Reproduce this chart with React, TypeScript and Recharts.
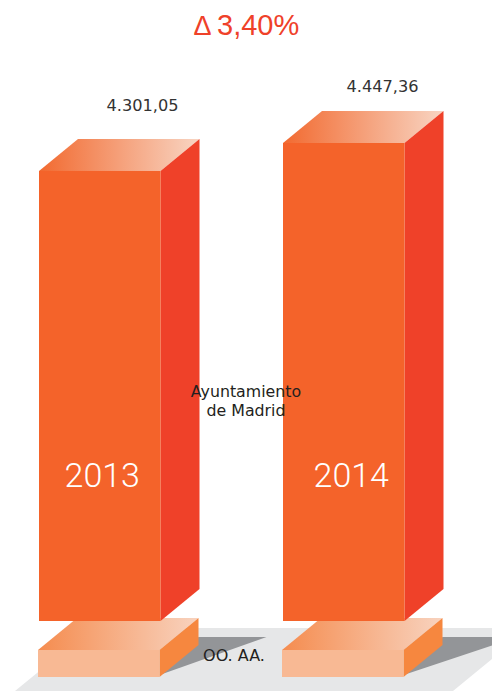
import React from "react";
import { BarChart, Bar, XAxis, YAxis, LabelList } from "recharts";

const years = ["2013", "2014"];
const ayuntamientoValues = [4301.05, 4447.36];
const ayuntamientoLabels = ["4.301,05", "4.447,36"];
const organismosValues = [100, 100];
const seriesNames = ["Ayuntamiento", "de Madrid", "OO. AA."];
const changeLabel = "3,40%";

const upperData = years.map((year, i) => ({ year, value: ayuntamientoValues[i], label: ayuntamientoLabels[i] }));
const lowerData = years.map((year, i) => ({ year, value: organismosValues[i] }));

const DX = 39;
const DY = 32;
const SANS = "'Liberation Sans', Arial, sans-serif";
const VERDANA = "'DejaVu Sans', Verdana, sans-serif";
const labelShift = [{ dx: 103.5, dy: -60 }, { dx: 99.5, dy: -51 }];
const yearShift = [2.5, 7.5];

function Box({ x, y, width, height, index, front, side, from, to, prefix, shadow }: any) {
  const id = `${prefix}-${index}`;
  const r = x + width;
  const b = y + height;
  return (
    <g>
      <defs>
        <linearGradient id={id} x1="0" y1="0" x2="1" y2="0">
          <stop offset="0%" stopColor={from} />
          <stop offset="100%" stopColor={to} />
        </linearGradient>
      </defs>
      {shadow ? <polygon points={shadow(r, b, index)} fill="#939598" /> : null}
      <polygon points={`${x},${y} ${x + DX},${y - DY} ${r + DX},${y - DY} ${r},${y}`} fill={`url(#${id})`} />
      <polygon points={`${r},${y} ${r + DX},${y - DY} ${r + DX},${b - DY} ${r},${b}`} fill={side} />
      <rect x={x} y={y} width={width} height={height} fill={front} />
    </g>
  );
}

const lowerShadow = (r: number, b: number, index: number) =>
  index === 0
    ? `${r},${b - 2} ${r + DX},${b - 40} ${r + 107},${b - 40}`
    : `${r},${b - 2} ${r + DX},${b - 40} ${r + 90},${b - 40} ${r + 90},${b - 32}`;

export default function App() {
  return (
    <div style={{ position: "absolute", left: 0, top: 0, width: 492, height: 691, overflow: "hidden", background: "#fff" }}>
      <svg width={492} height={691} style={{ position: "absolute", left: 0, top: 0 }}>
        <polygon points="92,628 492,628 492,659 453,691 15,691" fill="#e6e7e8" />
      </svg>

      <div style={{ position: "absolute", left: -22.75, top: 0 }}>
        <BarChart width={540} height={677} data={lowerData} margin={{ top: 650, right: 52, bottom: 0, left: 0 }} style={{ overflow: "visible" }}>
          <XAxis dataKey="year" hide />
          <YAxis hide domain={[0, 100]} />
          <Bar
            dataKey="value"
            barSize={121.5}
            isAnimationActive={false}
            shape={(p: any) => (
              <Box {...p} prefix="low" front="#f8b994" side="#f6873f" from="#f58c4f" to="#f8d3bf" shadow={lowerShadow} />
            )}
          />
        </BarChart>
      </div>

      <div style={{ position: "absolute", left: -21.75, top: 0 }}>
        <BarChart width={540} height={621} data={upperData} margin={{ top: 0, right: 52, bottom: 0, left: 0 }} style={{ overflow: "visible" }}>
          <XAxis dataKey="year" hide />
          <YAxis hide domain={[1949.55, 5194.6]} allowDataOverflow />
          <Bar
            dataKey="value"
            barSize={121.5}
            isAnimationActive={false}
            shape={(p: any) => (
              <Box {...p} prefix="up" front="#f4632a" side="#ef4129" from="#f26a30" to="#f8d5c3" />
            )}
          >
            <LabelList
              dataKey="label"
              content={(p: any) => (
                <text
                  x={p.x + labelShift[p.index].dx}
                  y={p.y + labelShift[p.index].dy}
                  textAnchor="middle"
                  fontFamily={VERDANA}
                  fontSize={16.2}
                  fill="#333"
                >
                  {p.value}
                </text>
              )}
            />
            <LabelList
              dataKey="year"
              content={(p: any) => (
                <text
                  x={p.x + p.width / 2 + yearShift[p.index]}
                  y={p.y + p.height - 134}
                  textAnchor="middle"
                  fontFamily="Roboto, sans-serif"
                  fontWeight={300}
                  fontSize={34}
                  fill="#fff"
                >
                  {p.value}
                </text>
              )}
            />
          </Bar>
        </BarChart>
      </div>

      <svg width={492} height={691} style={{ position: "absolute", left: 0, top: 0 }}>
        <text x={193.5} y={35} fontFamily={SANS} fontSize={27} fill="#ef4129">Δ</text>
        <text x={217} y={35} fontFamily={SANS} fontSize={29} fill="#ef4129">{changeLabel}</text>
        <text x={246} y={397} textAnchor="middle" fontFamily={VERDANA} fontSize={15.8} fill="#231f20">{seriesNames[0]}</text>
        <text x={246} y={416} textAnchor="middle" fontFamily={VERDANA} fontSize={15.8} fill="#231f20">{seriesNames[1]}</text>
        <text x={234} y={661} textAnchor="middle" fontFamily={VERDANA} fontSize={16} fill="#231f20">{seriesNames[2]}</text>
      </svg>
    </div>
  );
}
